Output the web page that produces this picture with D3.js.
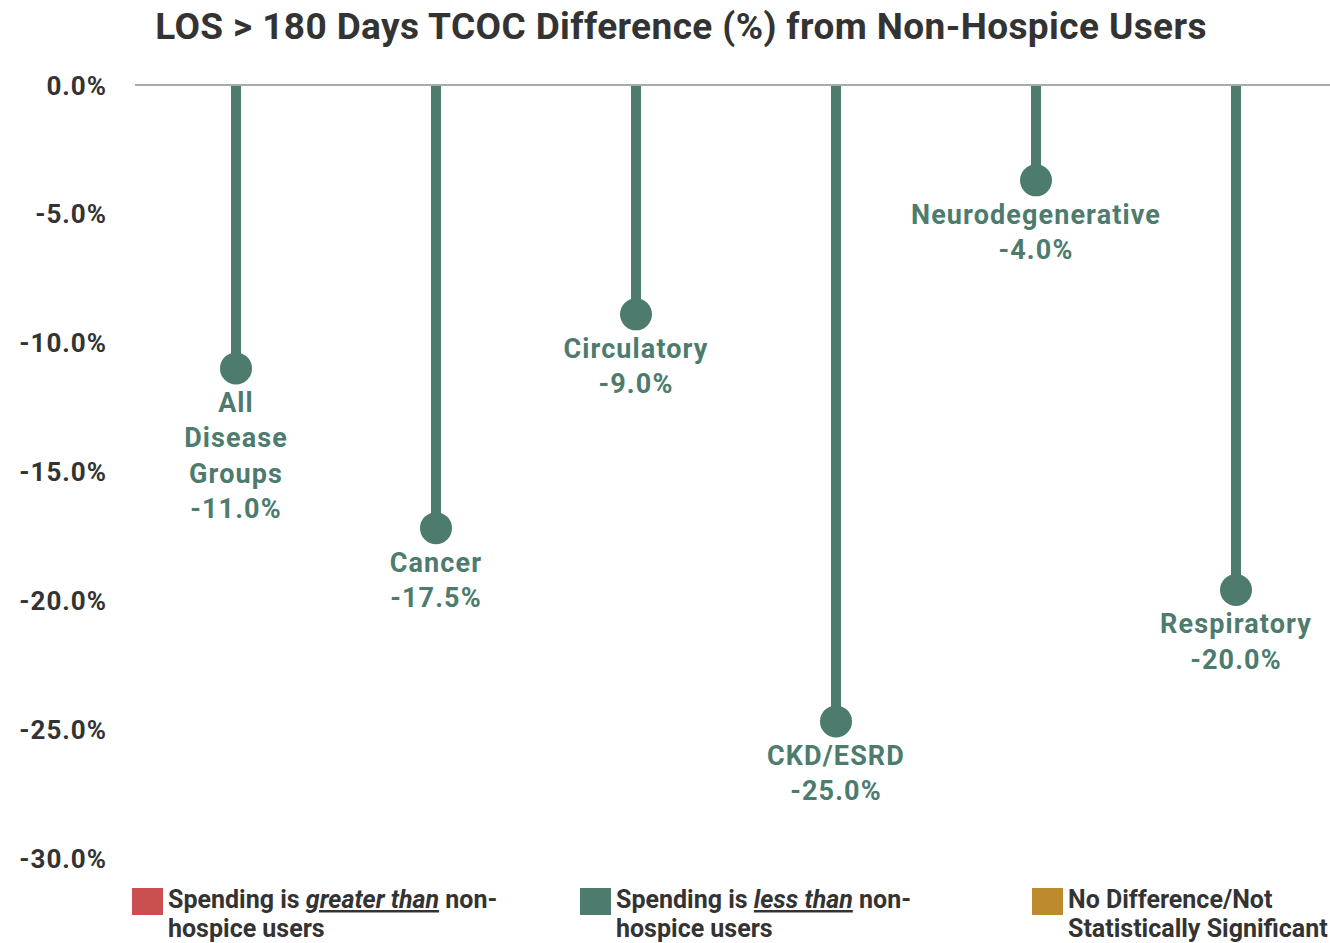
<!DOCTYPE html>
<html><head><meta charset="utf-8">
<script src="https://cdn.jsdelivr.net/npm/d3@7"></script>
<style>
html,body{margin:0;padding:0;background:#fff;}
svg{display:block;font-family:Roboto,"Noto Sans",sans-serif;}
</style></head><body>
<svg id="chart" width="1330" height="943"></svg>
<script>
const categories = ["All Disease Groups","Cancer","Circulatory","CKD/ESRD","Neurodegenerative","Respiratory"];
const labelLines = [["All","Disease","Groups"],["Cancer"],["Circulatory"],["CKD/ESRD"],["Neurodegenerative"],["Respiratory"]];
const values = [-11.0, -17.2, -8.9, -24.7, -3.7, -19.6];
const valueLabels = ["-11.0%","-17.5%","-9.0%","-25.0%","-4.0%","-20.0%"];
const yTicks = [0,-5,-10,-15,-20,-25,-30];
const legendItems = [
  {color:"#c94f50", parts:[["Spending is ",false],["greater than",true],[" non-",false]], line2:"hospice users"},
  {color:"#4d7b6e", parts:[["Spending is ",false],["less than",true],[" non-",false]], line2:"hospice users"},
  {color:"#bd8b2e", parts:[["No Difference/Not",false]], line2:"Statistically Significant"}
];
const title = "LOS > 180 Days TCOC Difference (%) from Non-Hospice Users";

const green = "#4d7b6e", dark = "#333333";
const svg = d3.select("#chart");
const y = d3.scaleLinear().domain([0,-30]).range([85,858]);
const x = d3.scaleBand().domain(categories).range([136,1336]);

svg.append("text").attr("x",681).attr("y",39).attr("text-anchor","middle")
  .attr("font-size",37).attr("font-weight",700).attr("fill",dark)
  .attr("letter-spacing","0.4").text(title);

const yAxis = d3.axisLeft(y).tickValues(yTicks)
  .tickFormat(d=>d3.format(".1f")(d).replace("\u2212","-")+"%").tickSize(0).tickPadding(0);
const ga = svg.append("g").attr("transform","translate(107,0)").call(yAxis);
ga.select(".domain").remove();
ga.selectAll("text").attr("font-size",26).attr("font-weight",700).attr("fill",dark)
  .attr("font-family","Roboto, sans-serif").attr("letter-spacing","1").attr("dy","0.35em");

svg.append("line").attr("x1",135).attr("x2",1330).attr("y1",y(0)).attr("y2",y(0))
  .attr("stroke","#555").attr("stroke-width",1.2);

const g = svg.append("g");
categories.forEach((c,i)=>{
  const cx = x(c)+x.bandwidth()/2;
  g.append("line").attr("x1",cx).attr("x2",cx).attr("y1",y(0)+1).attr("y2",y(values[i]))
    .attr("stroke",green).attr("stroke-width",10);
  g.append("circle").attr("cx",cx).attr("cy",y(values[i])).attr("r",16).attr("fill",green);
  const lines = labelLines[i].concat([valueLabels[i]]);
  const t = g.append("text").attr("text-anchor","middle").attr("font-size",27).attr("font-weight",700)
    .attr("fill",green).attr("letter-spacing","1.1");
  lines.forEach((l,j)=>{
    t.append("tspan").attr("x",cx).attr("y",y(values[i])+34+j*35.5).attr("dy","0.35em").text(l);
  });
});

const lx = [132,580,1032];
legendItems.forEach((it,i)=>{
  svg.append("rect").attr("x",lx[i]).attr("y",888).attr("width",31).attr("height",27).attr("fill",it.color);
  const t = svg.append("text").attr("x",lx[i]+36).attr("y",908).attr("font-size",25).attr("font-weight",700).attr("fill",dark);
  it.parts.forEach(p=>{
    const s = t.append("tspan").text(p[0]);
    if(p[1]) s.attr("font-style","italic").attr("text-decoration","underline");
  });
  svg.append("text").attr("x",lx[i]+36).attr("y",937).attr("font-size",25).attr("font-weight",700).attr("fill",dark).text(it.line2);
});
</script>
</body></html>
